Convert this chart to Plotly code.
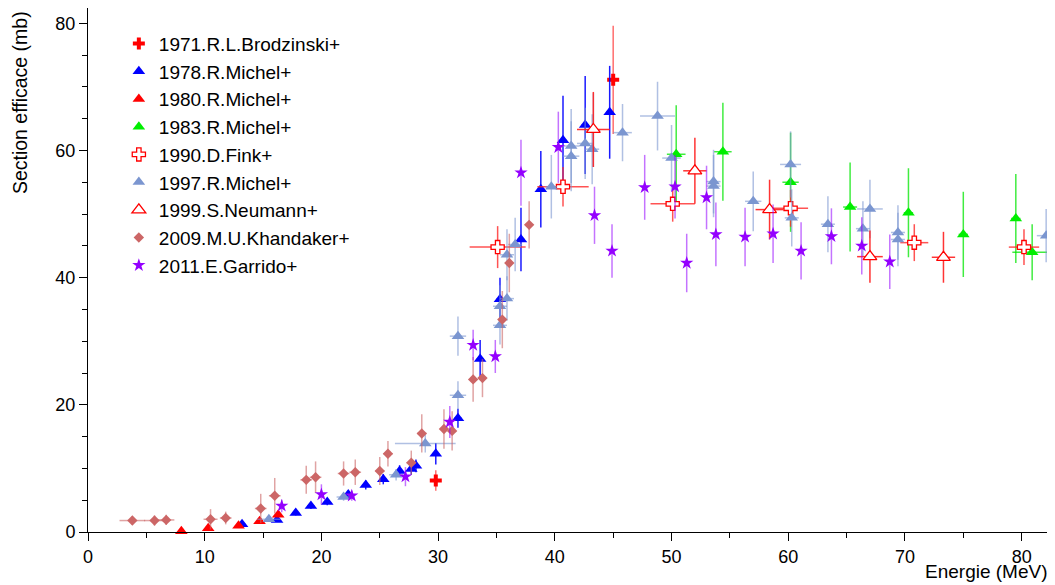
import plotly.graph_objects as go

# ---------------- data ----------------
# 1971 R.L.Brodzinski+
x71 = [29.8, 45.0]
y71 = [8.1, 71.1]
ey71 = [1.6, 8.5]
ex71 = [0.0, 0.3]

# 1978 R.Michel+
x78 = [13.2, 16.2, 17.8, 19.1, 20.5, 22.3, 23.8, 25.3, 26.7, 27.7, 28.1, 29.8, 31.7, 33.6, 35.3, 37.1, 38.8, 40.7, 42.6, 44.7]
y78 = [1.2, 1.9, 3.0, 4.1, 4.7, 5.9, 7.4, 8.3, 9.6, 9.9, 10.4, 12.3, 17.9, 27.2, 36.6, 46.0, 53.9, 61.6, 64.0, 66.0]
ey78 = [0.3, 0.3, 0.4, 0.5, 0.5, 0.6, 0.7, 0.8, 0.9, 0.9, 1.0, 1.7, 1.5, 3.0, 3.4, 5.0, 6.0, 7.0, 7.7, 7.3]
ex78 = [0.3] * 20

# 1980 R.Michel+
x80 = [8.0, 10.3, 12.9, 14.7, 16.3]
y80 = [0.1, 0.6, 1.0, 1.7, 2.7]
ey80 = [0.2, 0.3, 0.3, 0.3, 0.4]
ex80 = [0.2, 0.2, 0.2, 0.2, 0.2]

# 1983 R.Michel+
x83 = [50.4, 54.4, 60.2, 65.3, 70.3, 75.0, 79.5, 80.9]
y83 = [59.4, 59.8, 55.0, 51.1, 50.2, 46.8, 49.3, 44.0]
ey83 = [7.7, 7.7, 7.8, 7.0, 7.0, 6.7, 7.0, 4.4]
ex83 = [0.8, 0.75, 0.7, 0.6, 0.4, 0.4, 0.4, 1.7]

# 1990 D.Fink+
x90 = [35.1, 40.7, 50.1, 60.2, 70.8, 80.2]
y90 = [44.8, 54.3, 51.6, 50.9, 45.5, 44.8]
ey90 = [3.3, 3.1, 2.8, 2.9, 2.9, 2.8]
ex90 = [2.4, 2.2, 1.9, 1.5, 1.2, 1.3]

# 1997 R.Michel+
x97 = [15.5, 21.9, 26.4, 28.9, 31.7, 31.7, 35.3, 35.3, 35.9, 35.9, 36.6, 39.7, 41.4, 41.4, 42.6, 43.2,
       43.3, 45.8, 48.8, 50.0, 53.6, 53.6, 57.0, 60.2, 60.3, 63.4, 66.4, 67.0, 69.4, 69.4, 82.1]
y97 = [2.0, 5.5, 9.0, 13.9, 21.5, 30.8, 32.5, 35.5, 36.7, 43.6, 45.2, 54.3, 60.7, 59.1, 61.1, 60.2,
       63.2, 62.8, 65.4, 58.8, 55.1, 54.4, 52.0, 57.8, 49.4, 48.4, 47.7, 50.8, 47.1, 46.0, 46.6]
ey97 = [0.4, 0.6, 0.9, 1.4, 2.2, 3.1, 3.0, 3.3, 3.5, 4.0, 4.2, 5.0, 5.8, 5.5, 5.6, 5.5,
        5.8, 4.5, 5.4, 5.2, 5.0, 4.9, 4.7, 5.2, 4.5, 4.4, 4.3, 4.6, 4.3, 4.2, 4.2]
ex97 = [1.0, 0.6, 0.6, 2.6, 0.7, 0.7, 0.6, 0.6, 0.6, 0.6, 0.6, 0.5, 0.7, 0.7, 0.7, 0.6,
        0.6, 0.8, 1.5, 0.8, 0.6, 0.6, 0.7, 0.9, 0.6, 0.6, 0.6, 1.1, 0.6, 0.6, 0.8]

# 1999 S.Neumann+
x99 = [43.3, 52.0, 58.4, 67.0, 73.3]
y99 = [63.3, 56.8, 50.7, 43.3, 43.2]
ey99 = [5.9, 5.2, 4.7, 4.1, 4.0]
ex99 = [1.4, 1.0, 1.2, 1.1, 1.0]

# 2009 M.U.Khandaker+
x09 = [3.8, 5.7, 6.7, 10.5, 11.8, 14.8, 16.0, 18.7, 19.5, 21.9, 22.9, 25.0, 25.7, 27.7, 28.6, 30.5,
       31.2, 33.0, 33.8, 35.5, 36.1, 37.8]
y09 = [1.8, 1.8, 1.9, 2.0, 2.2, 3.7, 5.7, 8.2, 8.6, 9.2, 9.4, 9.6, 12.3, 10.9, 15.5, 16.2,
       15.9, 24.0, 24.2, 33.4, 42.3, 48.3]
ey09 = [0.7, 0.8, 0.8, 1.6, 1.0, 2.3, 2.8, 2.2, 2.5, 1.9, 2.0, 2.2, 2.0, 1.9, 3.0, 3.1,
        3.1, 3.5, 3.0, 4.5, 4.6, 3.7]
ex09 = [1.1, 0.9, 0.7, 0.6, 0.5, 0.5, 0.5, 0.5, 0.5, 0.5, 0.5, 0.4, 0.4, 0.4, 0.4, 0.3,
        0.3, 0.3, 0.3, 0.2, 0.2, 0.2]

# 2011 E.Garrido+
x11 = [16.6, 20.0, 22.6, 27.2, 31.0, 33.0, 34.9, 37.1, 40.3, 43.4, 44.9, 47.7, 50.3, 51.3, 53.0,
       53.8, 56.3, 58.7, 61.1, 63.7, 66.3, 68.7]
y11 = [4.1, 5.9, 5.7, 8.7, 17.3, 29.4, 27.6, 56.5, 60.5, 49.8, 44.2, 54.2, 54.3, 42.3, 52.6,
       46.8, 46.4, 46.9, 44.2, 46.5, 45.0, 42.5]
ey11 = [1.0, 1.6, 0.8, 1.5, 2.5, 2.4, 2.6, 5.2, 5.6, 4.5, 4.2, 5.1, 5.0, 4.6, 5.0,
        5.0, 4.6, 4.6, 4.5, 4.4, 4.5, 4.3]

labels = ["1971.R.L.Brodzinski+", "1978.R.Michel+", "1980.R.Michel+", "1983.R.Michel+",
          "1990.D.Fink+", "1997.R.Michel+", "1999.S.Neumann+", "2009.M.U.Khandaker+",
          "2011.E.Garrido+"]

# ---------------- figure ----------------
fig = go.Figure()


def add(x, y, ey, ex, name, symbol, mcolor, lcolor, ecolor, size, lw=0):
    fig.add_trace(go.Scatter(
        x=x, y=y, mode="markers", name=name, cliponaxis=False,
        marker=dict(symbol=symbol, size=size, color=mcolor,
                    line=dict(color=lcolor, width=lw)),
        error_y=dict(type="data", array=ey, visible=True, color=ecolor, thickness=1.5, width=0),
        error_x=dict(type="data", array=ex, visible=True, color=ecolor, thickness=1.5, width=0),
    ))


add(x71, y71, ey71, ex71, labels[0], "cross", "#ff0000", "#ff0000", "rgba(255,60,60,0.75)", 10)
add(x78, y78, ey78, ex78, labels[1], "triangle-up", "#0000ff", "#0000ff", "rgba(0,0,255,0.9)", 11)
add(x80, y80, ey80, ex80, labels[2], "triangle-up", "#ff0000", "#ff0000", "rgba(255,0,0,0.9)", 11)
add(x83, y83, ey83, ex83, labels[3], "triangle-up", "#00ee00", "#00ee00", "rgba(0,230,0,0.75)", 11)
add(x90, y90, ey90, ex90, labels[4], "cross", "#ffffff", "#ff0000", "rgba(255,40,40,0.8)", 11, 1.3)
add(x97, y97, ey97, ex97, labels[5], "triangle-up", "#7b96d0", "#7b96d0", "rgba(123,150,208,0.6)", 11)
add(x99, y99, ey99, ex99, labels[6], "triangle-up", "#ffffff", "#ff0000", "rgba(255,30,30,0.9)", 12, 1.3)
add(x09, y09, ey09, ex09, labels[7], "diamond", "#cc6666", "#cc6666", "rgba(204,102,102,0.6)", 8)
add(x11, y11, ey11, [0] * len(x11), labels[8], "star", "#9400ff", "#9400ff", "rgba(148,0,255,0.55)", 10)

font = "Liberation Sans, Arial, sans-serif"

# the page body adds an 8px margin: size the figure to fit the 1055x585 window
fig.update_layout(
    width=1047, height=577,
    margin=dict(l=80, r=3, t=0, b=53),
    paper_bgcolor="white", plot_bgcolor="white",
    font=dict(family=font, size=18, color="black"),
    showlegend=True,
    legend=dict(x=0.032, y=0.968, xanchor="left", yanchor="top",
                bgcolor="rgba(0,0,0,0)", borderwidth=0,
                font=dict(family=font, size=19, color="black")),
    xaxis=dict(range=[0, 82.6], showgrid=False, zeroline=False,
               showline=True, linecolor="black", linewidth=1, mirror=True,
               ticks="outside", ticklen=8, tickcolor="black", dtick=10, tick0=0,
               tickfont=dict(size=18),
               minor=dict(ticks="outside", ticklen=5, dtick=5, tickcolor="black")),
    yaxis=dict(range=[0, 82.4], showgrid=False, zeroline=False,
               showline=True, linecolor="black", linewidth=1, mirror=True,
               ticks="outside", ticklen=8, tickcolor="black", dtick=20, tick0=0,
               tickfont=dict(size=18),
               minor=dict(ticks="outside", ticklen=5, dtick=5, tickcolor="black")),
    annotations=[
        dict(text="Energie (MeV)", xref="paper", yref="paper", x=0.998, y=-0.100,
             xanchor="right", yanchor="bottom", showarrow=False, font=dict(size=19)),
        dict(text="Section efficace (mb)", xref="paper", yref="paper", x=-0.0705, y=0.997,
             xanchor="center", yanchor="top", textangle=-90, showarrow=False, font=dict(size=19.5)),
    ],
)

fig.write_html("out.html")
